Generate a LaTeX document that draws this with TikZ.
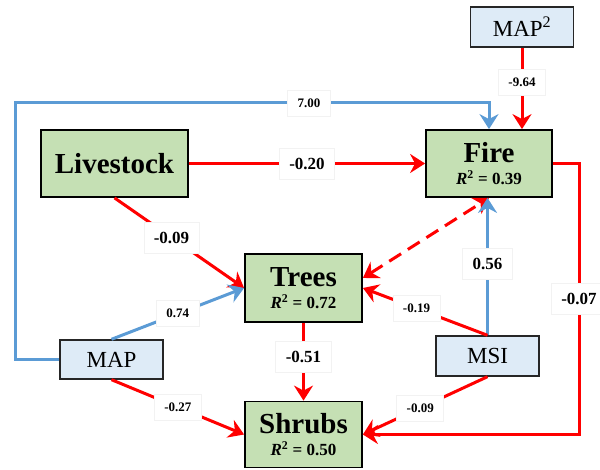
\documentclass[tikz,border=0pt]{standalone}
\usepackage{fontspec}
\setmainfont{Liberation Serif}
\usetikzlibrary{arrows.meta,calc}
\definecolor{boxgreen}{HTML}{C5E0B4}
\definecolor{boxblue}{HTML}{DEEBF7}
\definecolor{linered}{HTML}{FF0000}
\definecolor{lineblue}{HTML}{5B9BD5}
\begin{document}
\begin{tikzpicture}[x=1pt,y=-1pt,
  greenbox/.style={draw=black, line width=1.8pt, fill=boxgreen, align=center, inner sep=0pt, font=\bfseries},
  bluebox/.style={draw=black!85, line width=1.4pt, fill=boxblue, inner sep=0pt, font=\fontsize{23}{26}\selectfont},
  redarrow/.style={draw=linered, line width=3pt, -{Stealth[length=15pt,width=19pt,inset=5pt]}},
  bluearrow/.style={draw=lineblue, line width=3pt, -{Stealth[length=15pt,width=19pt,inset=5pt]}},
  labbig/.style={fill=white, draw=black!5, line width=0.6pt, inner xsep=10pt, inner ysep=0pt, minimum height=31pt, text=black, font=\bfseries\fontsize{17}{17}\selectfont},
  labsmall/.style={fill=white, draw=black!5, line width=0.6pt, inner xsep=10pt, inner ysep=0pt, minimum height=26pt, text=black, font=\bfseries\fontsize{13}{13}\selectfont}
]
\useasboundingbox (0,0) rectangle (600,470);

% nodes
\node[greenbox, minimum width=147pt, minimum height=67pt] (live) at (114.5,163.5)
  {\fontsize{29}{30}\selectfont Livestock};
\node[greenbox, minimum width=126pt, minimum height=67pt] (fire) at (489,163.5)
  {\fontsize{29}{30}\selectfont Fire\\[7pt]\fontsize{17}{18}\selectfont\textit{R}\textsuperscript{2} = 0.39};
\node[greenbox, minimum width=117pt, minimum height=68pt] (trees) at (303.5,288)
  {\fontsize{29}{30}\selectfont Trees\\[7pt]\fontsize{17}{18}\selectfont\textit{R}\textsuperscript{2} = 0.72};
\node[greenbox, minimum width=117pt, minimum height=66pt] (shrubs) at (303.5,434.5)
  {\fontsize{29}{30}\selectfont Shrubs\\[7pt]\fontsize{17}{18}\selectfont\textit{R}\textsuperscript{2} = 0.50};
\node[bluebox, minimum width=103pt, minimum height=39pt] (map) at (111.5,359.5) {MAP};
\node[bluebox, minimum width=103pt, minimum height=40pt] (msi) at (487.5,356) {MSI};
\node[bluebox, minimum width=103pt, minimum height=40pt] (map2) at (522,27) {MAP\textsuperscript{2}};

% helper coordinates
\coordinate (c1) at (15,359.5);
\coordinate (c2) at (15,103);
\coordinate (c3) at (489,103);
\coordinate (c4) at (579,163.5);
\coordinate (c5) at (579,434.5);

% connectors
\draw[bluearrow] (map.west) -- (c1) -- (c2) -- node[labsmall, pos=0.62] {7.00} (c3) -- (fire.north);
\draw[redarrow] (map2.south) -- node[labsmall, pos=0.42] {-9.64} (map2.south |- fire.north);
\draw[redarrow] (live.east) -- node[labbig, pos=0.5] {-0.20} (fire.west);
\draw[redarrow] (fire.east) -- (c4) -- node[labbig, pos=0.5] {-0.07} (c5) -- (shrubs.east);
\draw[redarrow] (live.south) -- node[labbig, pos=0.44] {-0.09} (trees.west);
\draw[bluearrow] (map.north) -- node[labsmall, pos=0.5] {0.74} (trees.west);
\draw[draw=linered, line width=3pt, dash pattern=on 14pt off 8pt,
  {Stealth[length=15pt,width=19pt,inset=5pt]}-{Stealth[length=15pt,width=19pt,inset=5pt]}]
  ([yshift=10pt]trees.east) -- (fire.south);
\draw[bluearrow] (msi.north) -- node[labbig, pos=0.52] {0.56} (msi.north |- fire.south);
\draw[redarrow] (msi.north) -- node[labsmall, pos=0.57] {-0.19} (trees.east);
\draw[redarrow] (trees.south) -- node[labbig, pos=0.44] {-0.51} (shrubs.north);
\draw[redarrow] (map.south) -- node[labsmall, pos=0.5] {-0.27} (shrubs.west);
\draw[redarrow] (msi.south) -- node[labsmall, pos=0.54] {-0.09} (shrubs.east);
\end{tikzpicture}
\end{document}
